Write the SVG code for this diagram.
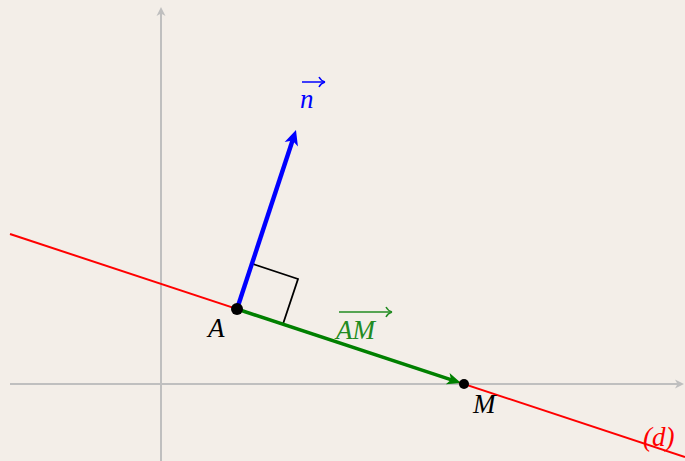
<svg xmlns="http://www.w3.org/2000/svg" width="685" height="461" viewBox="0 0 685 461">
<defs>
<style>
.axis{stroke:#bfbfbf;stroke-width:2;fill:none}
.lbl{font-family:"Liberation Serif",serif;font-style:italic;font-size:27px}
</style>
<marker id="ahGray" markerUnits="userSpaceOnUse" markerWidth="20" markerHeight="20" viewBox="-10 -10 20 20" refX="0" refY="0" orient="auto" overflow="visible">
<path d="M4,0 L-5,-4.5 L-2.5,0 L-5,4.5 Z" fill="#bfbfbf"/>
</marker>
<marker id="ahBlue" markerUnits="userSpaceOnUse" markerWidth="30" markerHeight="30" viewBox="-15 -15 30 30" refX="0" refY="0" orient="auto" overflow="visible">
<path d="M6,0 L-9,-7 L-5,0 L-9,7 Z" fill="#0000ff"/>
</marker>
<marker id="ahGreen" markerUnits="userSpaceOnUse" markerWidth="30" markerHeight="30" viewBox="-15 -15 30 30" refX="0" refY="0" orient="auto" overflow="visible">
<path d="M6,0 L-8,-6 L-4.5,0 L-8,6 Z" fill="#008000"/>
</marker>
<marker id="ahSmallBlue" markerUnits="userSpaceOnUse" markerWidth="20" markerHeight="20" viewBox="-10 -10 20 20" refX="0" refY="0" orient="auto" overflow="visible">
<path d="M1,0 C-2,-1 -4,-3 -5,-5 M1,0 C-2,1 -4,3 -5,5" stroke="#0000ff" stroke-width="1.5" fill="none"/>
</marker>
<marker id="ahSmallGreen" markerUnits="userSpaceOnUse" markerWidth="20" markerHeight="20" viewBox="-10 -10 20 20" refX="0" refY="0" orient="auto" overflow="visible">
<path d="M1,0 C-2,-1 -4,-3 -5,-5 M1,0 C-2,1 -4,3 -5,5" stroke="#228b22" stroke-width="1.5" fill="none"/>
</marker>
</defs>
<rect x="0" y="0" width="685" height="461" fill="#f3eee8"/>
<g id="axes">
<line class="axis" x1="10" y1="384" x2="680" y2="384" marker-end="url(#ahGray)"/>
<line class="axis" x1="161" y1="461" x2="161" y2="11" marker-end="url(#ahGray)"/>
</g>
<g id="connectors">
<line id="line-d" x1="10" y1="234" x2="685" y2="457" stroke="#ff0000" stroke-width="2"/>
<path id="right-angle" d="M253,264 L298,279 L283,324" fill="none" stroke="#000" stroke-width="1.8" stroke-linejoin="miter"/>
<line id="vec-AM" x1="237" y1="309" x2="455.3" y2="381.1" stroke="#008000" stroke-width="3.6" marker-end="url(#ahGreen)"/>
<line id="vec-n" x1="237" y1="309" x2="294.1" y2="135.7" stroke="#0000ff" stroke-width="4.4" marker-end="url(#ahBlue)"/>
</g>
<g id="node-A">
<circle cx="237" cy="309" r="6" fill="#000"/>
<text class="lbl" x="208" y="337" fill="#000">A</text>
</g>
<g id="node-M">
<circle cx="464" cy="384" r="5" fill="#000"/>
<text class="lbl" x="473" y="413" fill="#000">M</text>
</g>
<g id="label-n">
<line x1="302" y1="82" x2="324" y2="82" stroke="#0000ff" stroke-width="1.5" marker-end="url(#ahSmallBlue)"/>
<text class="lbl" x="300" y="108" fill="#0000ff">n</text>
</g>
<g id="label-AM">
<line x1="339" y1="312" x2="391" y2="312" stroke="#228b22" stroke-width="1.5" marker-end="url(#ahSmallGreen)"/>
<text class="lbl" x="336" y="339" fill="#228b22">AM</text>
</g>
<g id="label-d">
<text class="lbl" x="643" y="446" fill="#ff0000" font-style="normal"><tspan>(</tspan><tspan font-style="italic">d</tspan><tspan>)</tspan></text>
</g>
</svg>
